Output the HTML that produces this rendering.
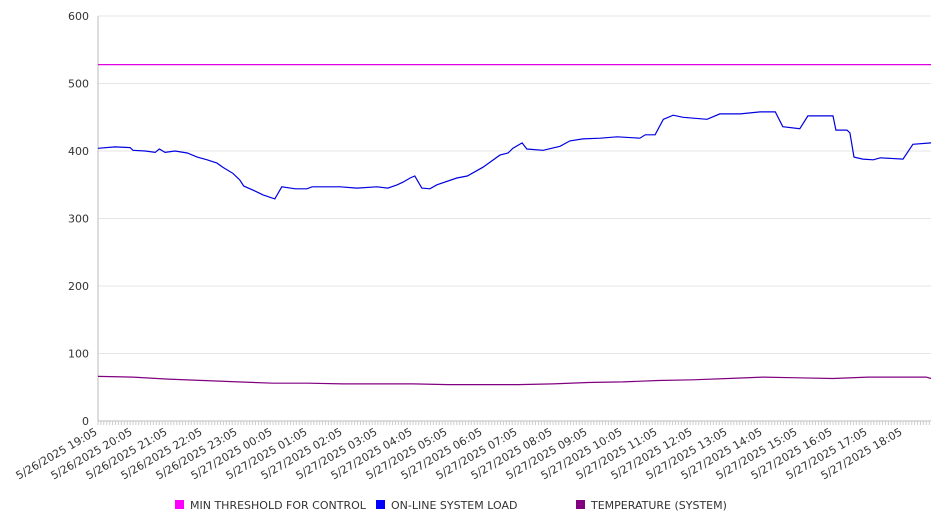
<!DOCTYPE html>
<html><head><meta charset="utf-8">
<style>
html,body{margin:0;padding:0;background:#fff;}
svg{display:block;font-family:"DejaVu Sans","Liberation Sans",sans-serif;}
</style></head>
<body>
<svg id="chart" width="946" height="526"></svg>
<script>
const yTicks = [0,100,200,300,400,500,600];
const xTickLabels = ["5/26/2025 19:05","5/26/2025 20:05","5/26/2025 21:05","5/26/2025 22:05","5/26/2025 23:05","5/27/2025 00:05","5/27/2025 01:05","5/27/2025 02:05","5/27/2025 03:05","5/27/2025 04:05","5/27/2025 05:05","5/27/2025 06:05","5/27/2025 07:05","5/27/2025 08:05","5/27/2025 09:05","5/27/2025 10:05","5/27/2025 11:05","5/27/2025 12:05","5/27/2025 13:05","5/27/2025 14:05","5/27/2025 15:05","5/27/2025 16:05","5/27/2025 17:05","5/27/2025 18:05"];
const thresholdValue = 528;
const loadMinutes = [0,29,55,60,81,98,105,115,132,153,170,187,204,214,231,243,250,266,283,303,315,338,358,367,415,444,478,497,513,523,535,543,555,569,581,615,633,660,689,703,711,727,735,763,792,809,831,861,890,929,938,955,969,986,1003,1044,1066,1101,1135,1161,1174,1203,1217,1260,1265,1284,1289,1296,1311,1329,1341,1380,1397,1428];
const loadValues = [404,406,405,401,400,398,403,398,400,397,391,387,382,376,367,357,348,342,335,329,347,344,344,347,347,345,347,345,350,354,360,363,345,344,350,360,363,376,394,397,404,412,403,401,407,415,418,419,421,419,424,424,447,453,450,447,455,455,458,458,436,433,452,452,431,431,427,391,388,387,390,388,410,412];
const tempMinutes = [0,60,120,180,240,300,360,420,540,600,720,780,840,900,960,1020,1080,1140,1200,1260,1320,1420,1428];
const tempValues = [66,65,62,60,58,56,56,55,55,54,54,55,57,58,60,61,63,65,64,63,65,65,63];

const NS="http://www.w3.org/2000/svg";
const svg=document.getElementById('chart');
const X0=98,X1=931,TOTAL=1428,Y0=421,YTOP=16;
const xs=m=>X0+(X1-X0)*m/TOTAL;
const ys=v=>Y0-(Y0-YTOP)*v/600;
function mk(tag,attrs,parent){const e=document.createElementNS(NS,tag);for(const k in attrs)e.setAttribute(k,attrs[k]);(parent||svg).appendChild(e);return e;}

const grid=mk('g',{});


yTicks.forEach(v=>{
  if(v>0){const l=mk('line',{x1:X0,x2:X1,y1:ys(v),y2:ys(v),stroke:'#e6e6e6','stroke-width':1},grid);
  
  }
  const t=mk('text',{x:89,y:ys(v)+4,'text-anchor':'end','font-size':11,fill:'#333'});
  t.textContent=v;
  
  
});
const ya=mk('line',{x1:X0,x2:X0,y1:YTOP,y2:Y0,stroke:'#bbb'});


const xa=mk('line',{x1:X0,x2:X1,y1:Y0,y2:Y0,stroke:'#bbb'});


let d='';
for(let m=0;m<=TOTAL;m+=5){const x=xs(m).toFixed(1);d+=`M${x} ${Y0}V${Y0+4}`;}
const mt=mk('path',{d:d,stroke:'#ccc','stroke-width':1});


xTickLabels.forEach((s,i)=>{
  const x=xs(i*60);
  const t=mk('text',{x:x,y:434,'text-anchor':'end','font-size':11,fill:'#333',transform:`rotate(-30 ${x} 434)`});
  t.textContent=s;
  
  
});
function line(ms,vs,color,name){
  const p=mk('path',{d:ms.map((m,i)=>(i?'L':'M')+xs(m).toFixed(1)+' '+ys(vs[i]).toFixed(1)).join(''),fill:'none',stroke:color,'stroke-width':1.2});
  
  
}
line([0,TOTAL],[thresholdValue,thresholdValue],'#e000e0','min-threshold-line');
line(loadMinutes,loadValues,'#0000e0','online-system-load-line');
line(tempMinutes,tempValues,'#800080','temperature-line');

const legend=[["MIN THRESHOLD FOR CONTROL","#ff00ff",175],["ON-LINE SYSTEM LOAD","#0000ff",376],["TEMPERATURE (SYSTEM)","#800080",576]];
legend.forEach(([s,c,x])=>{
  const g=mk('g',{});
  
  
  mk('rect',{x:x,y:500,width:9,height:9,fill:c},g);
  const t=mk('text',{x:x+15,y:509,'font-size':11,fill:'#333'},g);
  t.textContent=s;
});
</script>
</body></html>
